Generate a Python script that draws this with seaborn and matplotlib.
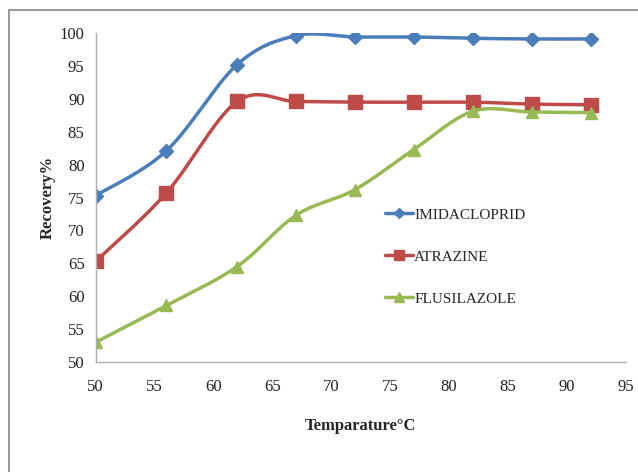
import numpy as np
import pandas as pd
import matplotlib
matplotlib.use('Agg')
import matplotlib.pyplot as plt
import seaborn as sns
from matplotlib.patches import Rectangle

# Data
temperature = [50, 56, 62, 67, 72, 77, 82, 87, 92]
imidacloprid = [75.3, 82.1, 95.2, 99.6, 99.4, 99.4, 99.2, 99.1, 99.1]
atrazine = [65.3, 75.7, 89.6, 89.6, 89.5, 89.5, 89.5, 89.2, 89.1]
flusilazole = [53.0, 58.6, 64.5, 72.3, 76.2, 82.3, 88.1, 88.0, 87.9]

series_names = ['IMIDACLOPRID', 'ATRAZINE', 'FLUSILAZOLE']
colors = ['#4a7ebb', '#be4b48', '#98b954']
markers = ['D', 's', '^']
marker_sizes = [7, 10, 9]


def smooth(x, y, n=30):
    # Excel-style smoothed line: Bezier segments with Catmull-Rom control points
    x = np.asarray(x, float)
    y = np.asarray(y, float)
    xs, ys = [], []
    for i in range(len(x) - 1):
        p0 = np.array([x[max(i - 1, 0)], y[max(i - 1, 0)]])
        p1 = np.array([x[i], y[i]])
        p2 = np.array([x[i + 1], y[i + 1]])
        p3 = np.array([x[min(i + 2, len(x) - 1)], y[min(i + 2, len(x) - 1)]])
        c1 = p1 + (p2 - p0) / 6
        c2 = p2 - (p3 - p1) / 6
        t = np.linspace(0, 1, n)[:, None]
        pts = ((1 - t) ** 3) * p1 + 3 * ((1 - t) ** 2) * t * c1 + 3 * (1 - t) * t ** 2 * c2 + t ** 3 * p2
        xs.extend(pts[:, 0])
        ys.extend(pts[:, 1])
    return np.array(xs), np.array(ys)


sns.set_style('white')
plt.rcParams['font.family'] = ['Liberation Serif', 'DejaVu Serif']

fig = plt.figure(figsize=(6.38, 4.72), dpi=100)
ax = fig.add_axes([0.150, 0.233, 0.831, 0.697])

# chart border (partially cropped in the original)
fig.patches.append(Rectangle((9 / 638, -0.05), 1.2, 1 - 10 / 472 + 0.05,
                             transform=fig.transFigure, fill=False,
                             edgecolor='#868686', linewidth=1.2, zorder=0))

for name, vals, c, m, ms in zip(series_names, [imidacloprid, atrazine, flusilazole],
                                colors, markers, marker_sizes):
    sx, sy = smooth(temperature, vals)
    curve = pd.DataFrame({'x': sx, 'y': sy})
    sns.lineplot(data=curve, x='x', y='y', ax=ax, color=c, linewidth=2.5,
                 sort=False, estimator=None)
    ax.plot(temperature, vals, linestyle='none', marker=m, markersize=ms,
            color=c, markeredgecolor=c)
    ax.plot([], [], color=c, linewidth=2.5, marker=m, markersize=ms * 0.75,
            label=name)

ax.set_xlim(50, 95)
ax.set_ylim(50, 100)
ax.set_xticks(range(50, 96, 5))
ax.set_yticks(range(50, 101, 5))
ax.tick_params(axis='both', which='both', direction='out', length=4,
               color='#a0a0a0', labelsize=12, labelcolor='#222222', pad=4)
ax.tick_params(axis='x', pad=8)
for s in ['top', 'right']:
    ax.spines[s].set_visible(False)
for s in ['left', 'bottom']:
    ax.spines[s].set_color('#b0b0b0')
    ax.spines[s].set_linewidth(1)

ax.set_xlabel('Temparature°C', fontsize=12, fontweight='bold', labelpad=17)
ax.set_ylabel('Recovery%', fontsize=12, fontweight='bold', labelpad=3)

ax.legend(loc='upper left', bbox_to_anchor=(0.52, 0.51), frameon=False,
          fontsize=11, handlelength=1.8, handletextpad=0.1, labelspacing=1.85)

fig.savefig('out.png', dpi=100)
